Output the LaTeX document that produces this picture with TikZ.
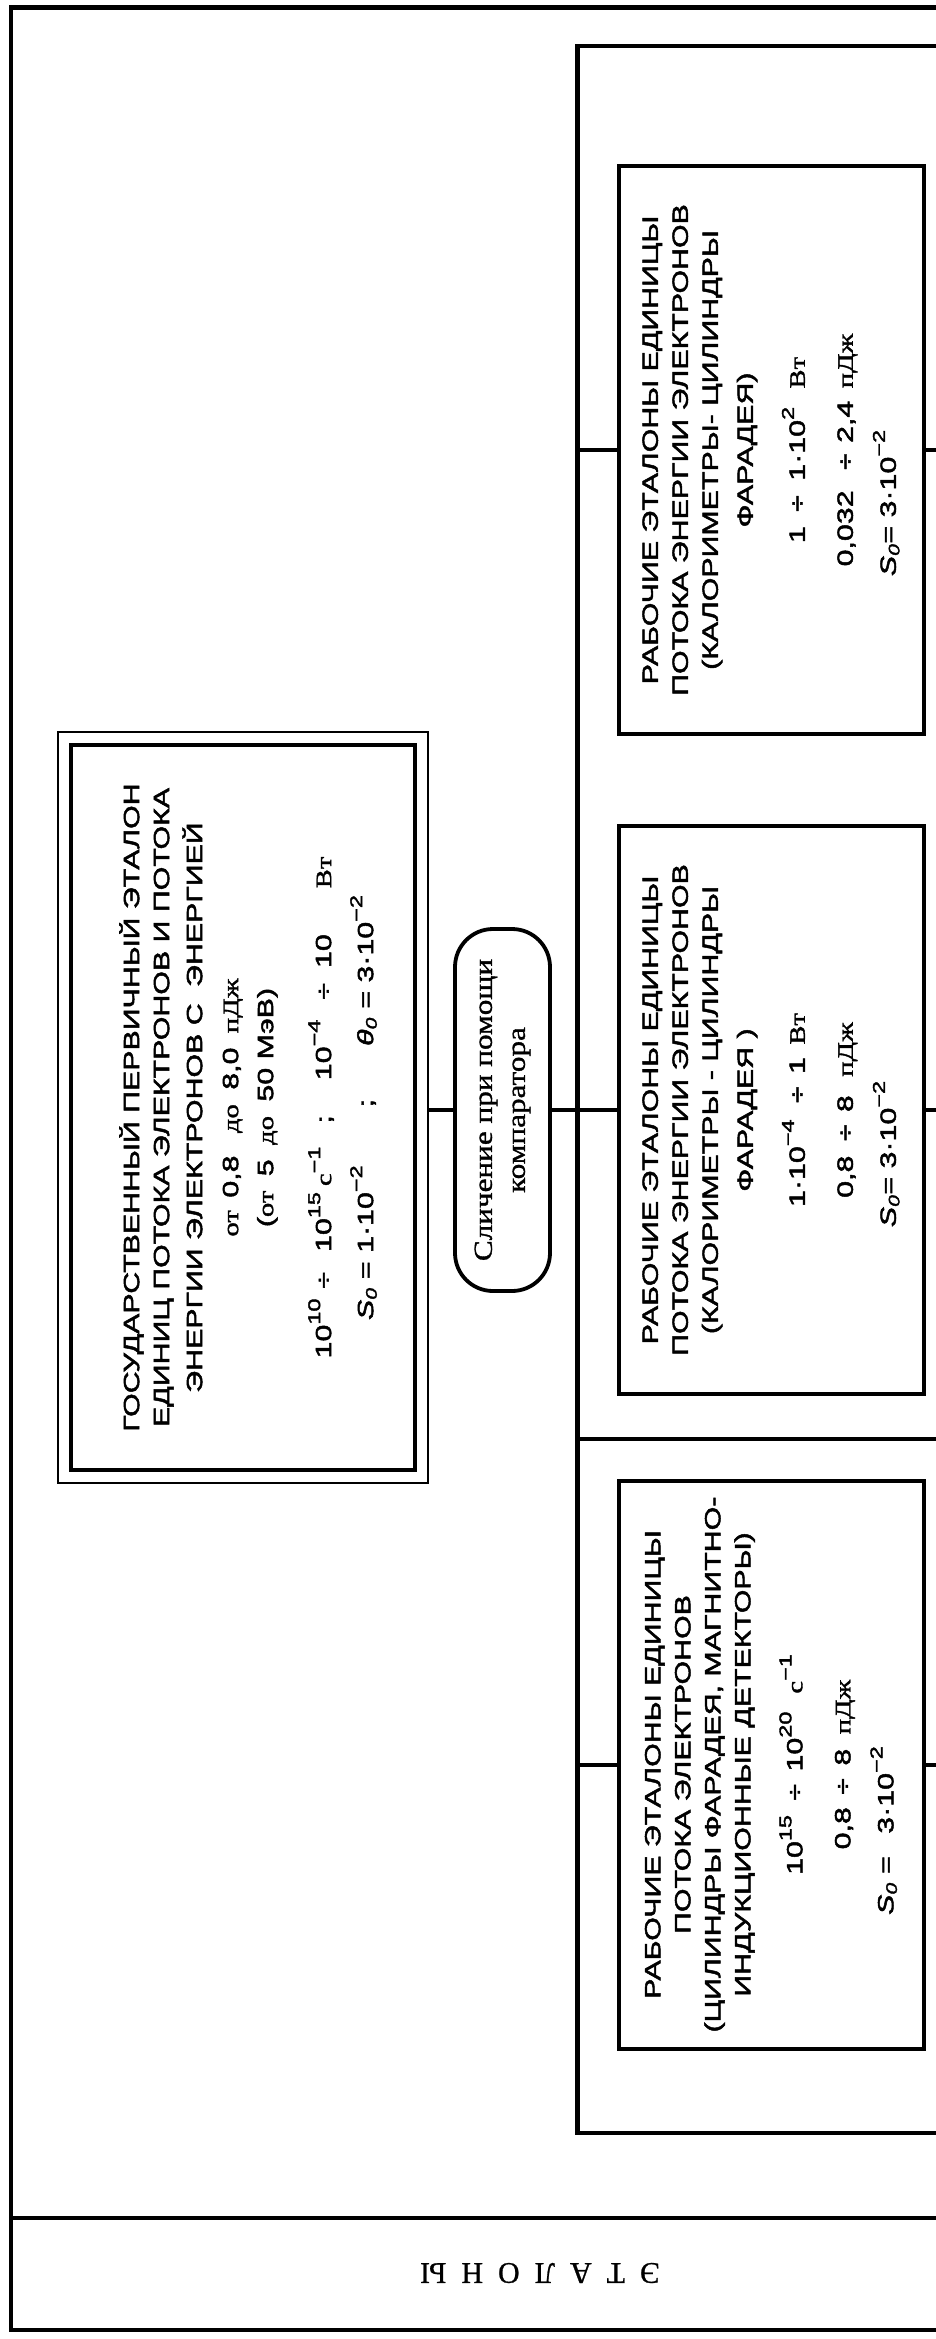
\documentclass[tikz,border=0pt]{standalone}
\usepackage{fontspec}
\setmainfont[FakeStretch=1.38, FakeBold=2.2]{Liberation Sans}
\newfontfamily\unitf[FakeStretch=1.3, FakeBold=1.6]{Liberation Serif}
\newfontfamily\cmpf[FakeStretch=1.2, FakeBold=1.2]{Liberation Serif}
\newfontfamily\lblf[FakeBold=0.8]{Liberation Serif}
\usetikzlibrary{positioning,fit}

\newcommand{\pw}[1]{\raisebox{0.5em}{\fontsize{17}{17}\selectfont #1}}
\newcommand{\un}[1]{{\unitf #1}}
\newcommand{\Szero}{\textit{S}\textsubscript{\textit{0}}}
\newcommand{\Tzero}{\textit{θ}\textsubscript{\textit{0}}}

\begin{document}
\begin{tikzpicture}[
  x=1pt, y=-1pt,
  frame/.style={line width=4.5pt},
  conn/.style={line width=4pt},
  stdbox/.style={draw, line width=4pt, rotate=90, align=center, inner sep=2pt,
               minimum width=568pt, minimum height=305pt,
               font=\fontsize{22}{30}\selectfont},
  mainbox/.style={draw, line width=4.5pt, rotate=90, align=center, inner sep=2pt,
               minimum width=725pt, minimum height=344pt,
               font=\fontsize{22}{30}\selectfont},
  cmpbox/.style={draw, line width=3.8pt, rotate=90, align=center, inner sep=2pt,
               rounded corners=38pt, minimum width=362pt, minimum height=95pt,
               font=\cmpf\fontsize{26}{33}\selectfont},
  lbl/.style={font=\lblf\fontsize{30}{30}\selectfont}
]
\fill[white] (0,0) rectangle (935,2339);
\useasboundingbox (0,0) rectangle (935,2339);

% outer frame and bottom band
\draw[frame] (960,7.5) -- (11,7.5) -- (11,2330) -- (960,2330);
\draw[frame] (11,2218) -- (960,2218);
\node[lbl, rotate=180] (etl) at (540,2273)
  {Э\kern15pt Т\kern15pt А\kern15pt Л\kern15pt О\kern15pt Н\kern15pt Ы};

% working standards group
\draw[frame] (960,46) -- (577.5,46) -- (577.5,2133) -- (960,2133);
\draw[frame] (577.5,1439) -- (960,1439);
\coordinate (gl) at (577.5,0);
\coordinate (re) at (960,0);

% primary standard
\node[mainbox] (state) at (243,1107.5) {\rule{0pt}{30pt}ГОСУДАРСТВЕННЫЙ ПЕРВИЧНЫЙ ЭТАЛОН\\
  ЕДИНИЦ ПОТОКА ЭЛЕКТРОНОВ И ПОТОКА\\[3pt]
  ЭНЕРГИИ ЭЛЕКТРОНОВ С\hspace{8pt} ЭНЕРГИЕЙ\\[6pt]
  \un{от}\hspace{4pt} 0,8\hspace{14pt} \un{до}\hspace{6pt} 8,0\hspace{6pt} \un{пДж}\\[5pt]
  (\un{от}\hspace{6pt} 5\hspace{6pt} \un{до}\hspace{6pt} 50 МэВ)\\[28pt]
  10\pw{10}\hspace{10pt}÷\hspace{20pt}10\pw{15}\hspace{6pt}\un{с}\pw{−1}\hspace{23pt};\hspace{35pt}10\pw{−4}\hspace{20pt}÷\hspace{15pt}10\hspace{46pt}\un{Вт}\\[12pt]
  \Szero\ = 1·10\pw{−2}\hspace{58pt};\hspace{53pt}\Tzero\ = 3·10\pw{−2}};
\node[draw, line width=2.4pt, fit=(state), inner sep=10.5pt] (stateout) {};

% comparator
\node[cmpbox] (cmp) at (502.5,1110) {Сличение при помощи\\ компаратора};

% working standards
\node[stdbox] (box1) at (771,450) {РАБОЧИЕ ЭТАЛОНЫ ЕДИНИЦЫ\\
  ПОТОКА ЭНЕРГИИ ЭЛЕКТРОНОВ\\
  (КАЛОРИМЕТРЫ- ЦИЛИНДРЫ\\[5pt]
  ФАРАДЕЯ)\\[22pt]
  1\hspace{6pt} ÷\hspace{6pt} 1·10\pw{2}\hspace{10pt} \un{Вт}\\[18pt]
  0,032\hspace{12pt} ÷\hspace{2pt} 2,4\hspace{4pt} \un{пДж}\\[13pt]
  \Szero= 3·10\pw{−2}\hspace*{106pt}};
\node[stdbox] (box2) at (771,1110) {РАБОЧИЕ ЭТАЛОНЫ ЕДИНИЦЫ\\
  ПОТОКА ЭНЕРГИИ ЭЛЕКТРОНОВ\\
  (КАЛОРИМЕТРЫ - ЦИЛИНДРЫ\\[5pt]
  ФАРАДЕЯ )\\[22pt]
  1·10\pw{−4}\hspace{8pt} ÷\hspace{4pt} 1\hspace{4pt} \un{Вт}\hspace*{22pt}\\[18pt]
  0,8\hspace{6pt} ÷\hspace{4pt} 8\hspace{10pt} \un{пДж}\\[13pt]
  \Szero= 3·10\pw{−2}\hspace*{88pt}};
\node[stdbox] (box3) at (771,1764.5) {РАБОЧИЕ ЭТАЛОНЫ ЕДИНИЦЫ\\
  ПОТОКА ЭЛЕКТРОНОВ\\
  (ЦИЛИНДРЫ ФАРАДЕЯ, МАГНИТНО-\\
  ИНДУКЦИОННЫЕ ДЕТЕКТОРЫ)\\[22pt]
  10\pw{15}\hspace{6pt} ÷\hspace{4pt} 10\pw{20}\hspace{18pt}\un{с}\pw{−1}\hspace*{64pt}\\[18pt]
  0,8\hspace{4pt} ÷\hspace{4pt} 8\hspace{6pt} \un{пДж}\hspace*{38pt}\\[13pt]
  \Szero\ =\hspace{14pt} 3·10\pw{−2}\hspace*{132pt}};

% connectors
\draw[conn] (stateout.east |- cmp.north) -- (cmp.north);
\draw[conn] (cmp.south) -- (box2.north);
\draw[conn] (gl |- box1.north) -- (box1.north);
\draw[conn] (gl |- box3.north) -- (box3.north);
\draw[conn] (box1.south) -- (box1.south -| re);
\draw[conn] (box2.south) -- (box2.south -| re);
\draw[conn] (box3.south) -- (box3.south -| re);
\end{tikzpicture}
\end{document}
